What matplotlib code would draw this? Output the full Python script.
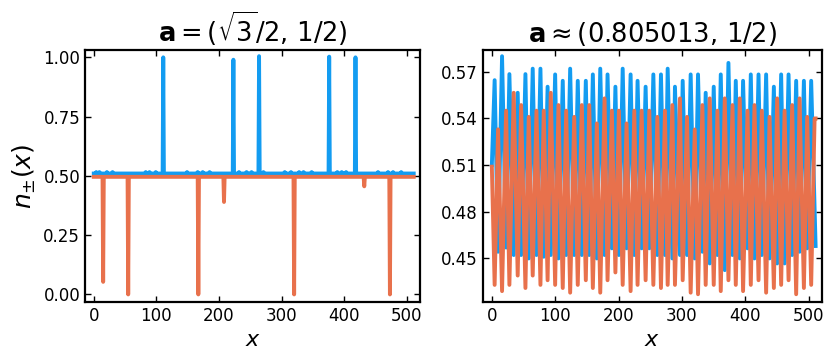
import numpy as np
import matplotlib
matplotlib.use("Agg")
import matplotlib.pyplot as plt

# colours
blue = "#139cf1"
orange = "#e8714c"

# ---- left panel: a = (sqrt(3)/2, 1/2) ----
n_sites = 512
left_blue_base = 0.510
left_orange_base = 0.496
left_blue_spike_x = [111, 223, 264, 376, 418]
left_blue_spike_y = [1.000, 0.990, 1.005, 1.003, 1.000]
left_blue_bump_x = [4, 9, 21, 30, 83, 89, 99, 149, 166, 174, 185, 232, 244, 252,
                    271, 305, 315, 328, 335, 348, 389, 396, 403, 454, 470, 478, 491]
left_blue_bump_y = 0.516
left_orange_dip_x = [15, 55, 167, 208, 320, 432, 473]
left_orange_dip_y = [0.053, 0.000, 0.000, 0.390, 0.000, 0.456, 0.000]

# ---- right panel: a ~ (0.805013, 1/2) ----
# blue maxima / orange minima sit at peak_x, blue minima / orange maxima at mid_x
peak_x = [4.4, 16.1, 27.7, 40.8, 53.0, 64.5, 76.7, 88.0, 99.9, 111.9,
          123.6, 135.6, 148.3, 159.4, 171.1, 182.6, 195.0, 206.5, 219.0, 230.0,
          242.7, 254.9, 266.9, 277.5, 289.0, 301.2, 313.8, 325.4, 337.5, 350.2,
          361.3, 373.4, 385.0, 396.5, 408.7, 420.9, 432.9, 445.1, 456.6, 468.3,
          480.3, 492.5, 504.0]
mid_x = [9.8, 22.5, 34.5, 46.2, 58.2, 70.4, 81.9, 93.0, 105.1, 117.3,
         130.0, 142.0, 153.7, 165.7, 177.9, 189.4, 200.5, 212.6, 224.8, 236.4,
         248.5, 261.2, 273.2, 284.9, 296.9, 308.0, 320.2, 332.3, 343.9, 356.0,
         367.6, 379.8, 391.3, 403.5, 414.5, 426.1, 438.3, 450.3, 462.0, 474.0,
         485.7, 497.7, 509.4]
blue_max = [0.5646, 0.5800, 0.5685, 0.5565, 0.5685, 0.5720, 0.5720, 0.5604, 0.5683, 0.5642,
            0.5720, 0.5642, 0.5642, 0.5683, 0.5720, 0.5683, 0.5604, 0.5720, 0.5683, 0.5642,
            0.5604, 0.5683, 0.5683, 0.5720, 0.5604, 0.5642, 0.5683, 0.5683, 0.5565, 0.5604,
            0.5683, 0.5757, 0.5642, 0.5642, 0.5683, 0.5683, 0.5683, 0.5604, 0.5683, 0.5683,
            0.5642, 0.5642, 0.5642]
blue_min = [0.4543, 0.4570, 0.4522, 0.4522, 0.4500, 0.4522, 0.4511, 0.4522, 0.4500, 0.4522,
            0.4522, 0.4522, 0.4522, 0.4500, 0.4522, 0.4565, 0.4522, 0.4565, 0.4522, 0.4565,
            0.4565, 0.4522, 0.4522, 0.4500, 0.4522, 0.4522, 0.4500, 0.4543, 0.4468, 0.4522,
            0.4425, 0.4522, 0.4500, 0.4565, 0.4500, 0.4522, 0.4500, 0.4468, 0.4468, 0.4522,
            0.4543, 0.4565]
orange_min = [0.433, 0.429, 0.433, 0.439, 0.431, 0.439, 0.433, 0.436, 0.433, 0.431,
              0.428, 0.433, 0.436, 0.431, 0.428, 0.436, 0.441, 0.433, 0.429, 0.433,
              0.436, 0.433, 0.431, 0.433, 0.433, 0.436, 0.428, 0.427, 0.433, 0.433,
              0.429, 0.436, 0.433, 0.429, 0.433, 0.436, 0.428, 0.431, 0.433, 0.436,
              0.427, 0.431, 0.433]
orange_max = [0.5330, 0.5450, 0.5565, 0.5486, 0.5410, 0.5450, 0.5450, 0.5565, 0.5486, 0.5450,
              0.5410, 0.5486, 0.5486, 0.5368, 0.5529, 0.5450, 0.5450, 0.5368, 0.5450, 0.5450,
              0.5450, 0.5410, 0.5450, 0.5486, 0.5529, 0.5410, 0.5329, 0.5486, 0.5529, 0.5450,
              0.5529, 0.5486, 0.5529, 0.5450, 0.5486, 0.5450, 0.5410, 0.5529, 0.5450, 0.5486,
              0.5529, 0.5410, 0.5400]
blue_start, blue_end = 0.510, 0.458
orange_start = 0.509
x_last = 511


def build_left():
    x = np.arange(n_sites)
    yb = np.full(n_sites, left_blue_base)
    yb[left_blue_bump_x] = left_blue_bump_y
    yb[left_blue_spike_x] = left_blue_spike_y
    yo = np.full(n_sites, left_orange_base)
    yo[left_orange_dip_x] = left_orange_dip_y
    return x, yb, yo


def build_right():
    bx = [0]
    by = [blue_start]
    for i in range(len(peak_x)):
        bx.append(peak_x[i])
        by.append(blue_max[i])
        if i < len(blue_min):
            bx.append(mid_x[i])
            by.append(blue_min[i])
    bx.append(x_last)
    by.append(blue_end)

    ox = [0]
    oy = [orange_start]
    for i in range(len(peak_x)):
        ox.append(peak_x[i])
        oy.append(orange_min[i])
        ox.append(mid_x[i])
        oy.append(orange_max[i])
    ox.append(x_last)
    oy.append(orange_max[-1])
    return bx, by, ox, oy


def style(ax):
    ax.tick_params(direction="in", top=True, right=True, labelsize=12,
                   length=4, width=1.0)
    for s in ax.spines.values():
        s.set_linewidth(1.6)
    ax.set_xticks([0, 100, 200, 300, 400, 500])
    ax.set_xlim(-14, 521)
    ax.set_xlabel("$x$", fontsize=16)


fig = plt.figure(figsize=(8.3, 3.6), dpi=100)
ax1 = fig.add_axes([0.1024, 0.1611, 0.4036, 0.70])
ax2 = fig.add_axes([0.5819, 0.1611, 0.4084, 0.70])

x, yb, yo = build_left()
ax1.plot(x, yb, color=blue, lw=2.8)
ax1.plot(x, yo, color=orange, lw=2.8)
ax1.set_ylim(-0.032, 1.031)
ax1.set_yticks([0, 0.25, 0.5, 0.75, 1.0])
ax1.set_yticklabels(["0.00", "0.25", "0.50", "0.75", "1.00"])
ax1.set_ylabel(r"$n_{\pm}(x)$", fontsize=18, labelpad=4)
ax1.set_title(r"$\mathbf{a} = (\sqrt{3}/2,\, 1/2)$", fontsize=18.5, pad=6)
style(ax1)

bx, by, ox, oy = build_right()
ax2.plot(bx, by, color=blue, lw=2.8)
ax2.plot(ox, oy, color=orange, lw=2.8)
ax2.set_ylim(0.422, 0.584)
ax2.set_yticks([0.45, 0.48, 0.51, 0.54, 0.57])
ax2.set_yticklabels(["0.45", "0.48", "0.51", "0.54", "0.57"])
ax2.set_title(r"$\mathbf{a} \approx (0.805013,\, 1/2)$", fontsize=18.5, pad=6)
style(ax2)

fig.savefig("out.png", dpi=100)
